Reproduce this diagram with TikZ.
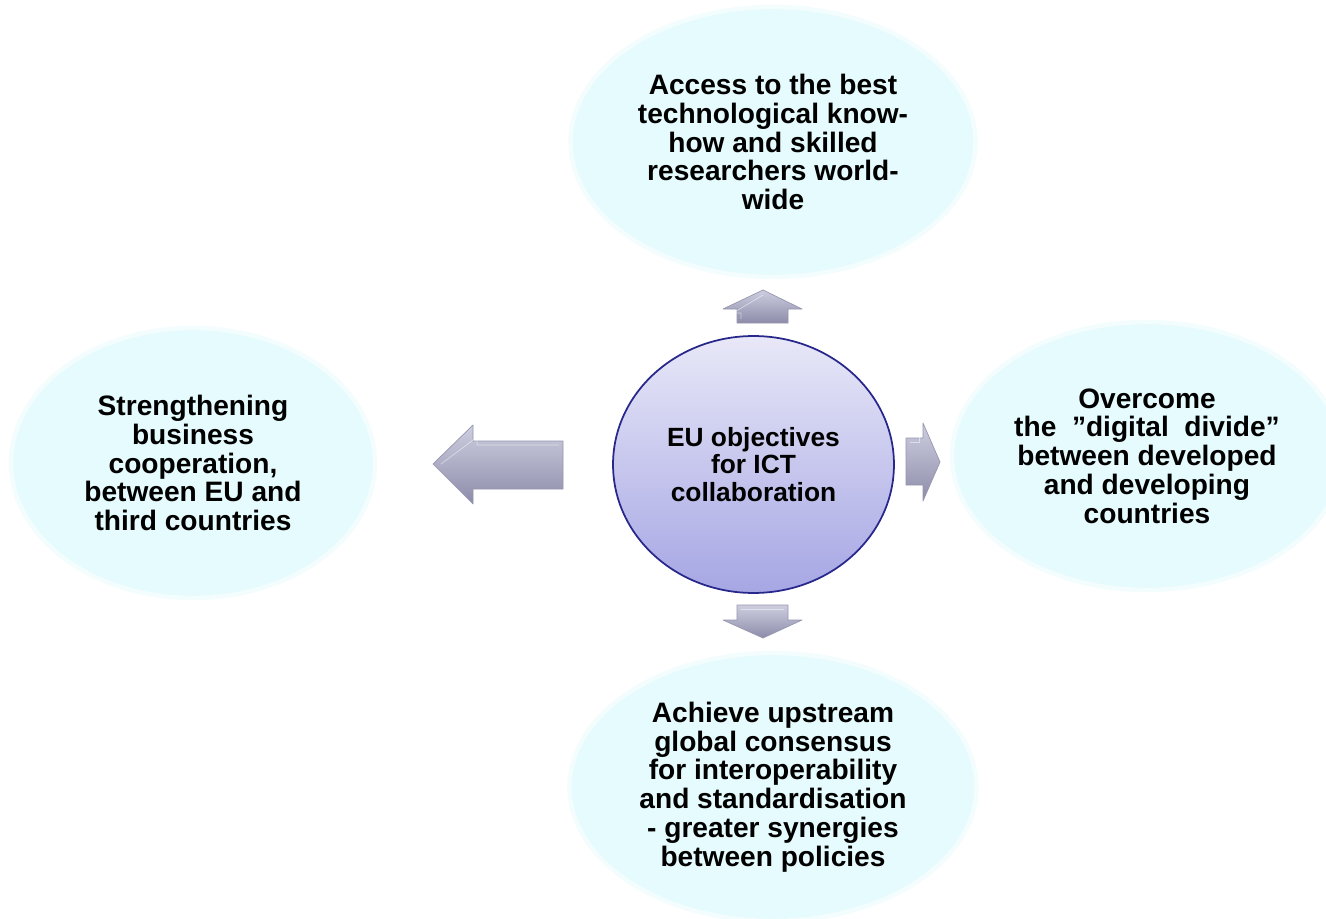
\documentclass[tikz,border=0pt]{standalone}
\usepackage{fontspec}
\setmainfont{Liberation Sans}
\usepackage{xcolor}
\usepackage{tikz}
\usetikzlibrary{shapes.geometric, positioning}

\definecolor{ellfill}{RGB}{230,251,253}
\definecolor{ellrim}{RGB}{244,253,254}
\definecolor{circtop}{RGB}{232,232,248}
\definecolor{circbot}{RGB}{166,166,228}
\definecolor{circline}{RGB}{40,40,140}
\definecolor{arrlight}{RGB}{206,206,224}
\definecolor{arrdark}{RGB}{140,140,170}
\definecolor{arredge}{RGB}{150,150,175}

\tikzset{
	goal/.style={ellipse, fill=ellfill, draw=ellrim, line width=2.5pt, inner sep=0pt,
		minimum width=8.1cm, minimum height=5.4cm, align=center,
		font=\bfseries\fontsize{16}{16.4}\selectfont},
	hub/.style={ellipse, draw=circline, line width=1pt, top color=circtop, bottom color=circbot,
		inner sep=0pt, minimum width=5.62cm, minimum height=5.14cm, align=center,
		font=\bfseries\fontsize{15}{15.6}\selectfont},
	blockarrow/.style={top color=arrlight, bottom color=arrdark, draw=arredge, line width=0.4pt, line join=round}
}

\begin{document}
\begin{tikzpicture}[x=0.02cm, y=-0.02cm]
				\useasboundingbox (0,0) rectangle (1326,919);
				\clip (0,0) rectangle (1326,919);
				\fill [white] (0,0) rectangle (1326,919);
				
				\node [goal] (access) at (773,142) {Access to the best\\technological know-\\how and skilled\\researchers world-\\wide};
				\node [goal, minimum width=7.28cm] (business) at (193,463) {Strengthening\\business\\cooperation,\\between EU and\\third countries};
				\node [goal, minimum width=7.8cm, minimum height=5.36cm] (divide) at (1147,456) {Overcome\\the\ \ ”digital\ \ divide”\\between developed\\and developing\\countries};
				\node [goal, minimum width=8.14cm, minimum height=5.36cm] (consensus) at (773,787) {Achieve upstream\\global consensus\\for interoperability\\and standardisation\\- greater synergies\\between policies};
				
				\node [hub] (eu) at (753.5,464.5) {EU objectives\\for ICT\\collaboration};
				
				% block arrows
				\draw [blockarrow] (737,323) -- (737,309) -- (723,309) -- (763,290) -- (802,309) -- (788,309) -- (788,323) -- cycle;
				\draw [blockarrow] (737,605) -- (788,605) -- (788,620) -- (802,620) -- (763,638) -- (723,620) -- (737,620) -- cycle;
				\draw [blockarrow] (563,441) -- (473,441) -- (473,425) -- (433,464) -- (473,504) -- (473,489) -- (563,489) -- cycle;
				\draw [blockarrow] (906,438) -- (923,438) -- (923,423) -- (940,462) -- (923,501) -- (923,485) -- (906,485) -- cycle;
				
				%\draw [white, opacity=0.4] (567,445) -- (477,445);
				\draw [white, opacity=0.5] (559,445) -- (477,445) -- (477,437) -- (441,464);
				\draw [white, opacity=0.5] (910,442) -- (919,442) -- (919,431);
				\draw [white, opacity=0.5] (741,319) -- (741,313) -- (733,313) -- (763,295);
				\draw [white, opacity=0.5] (741,609) -- (784,609);
\end{tikzpicture}
\end{document}
